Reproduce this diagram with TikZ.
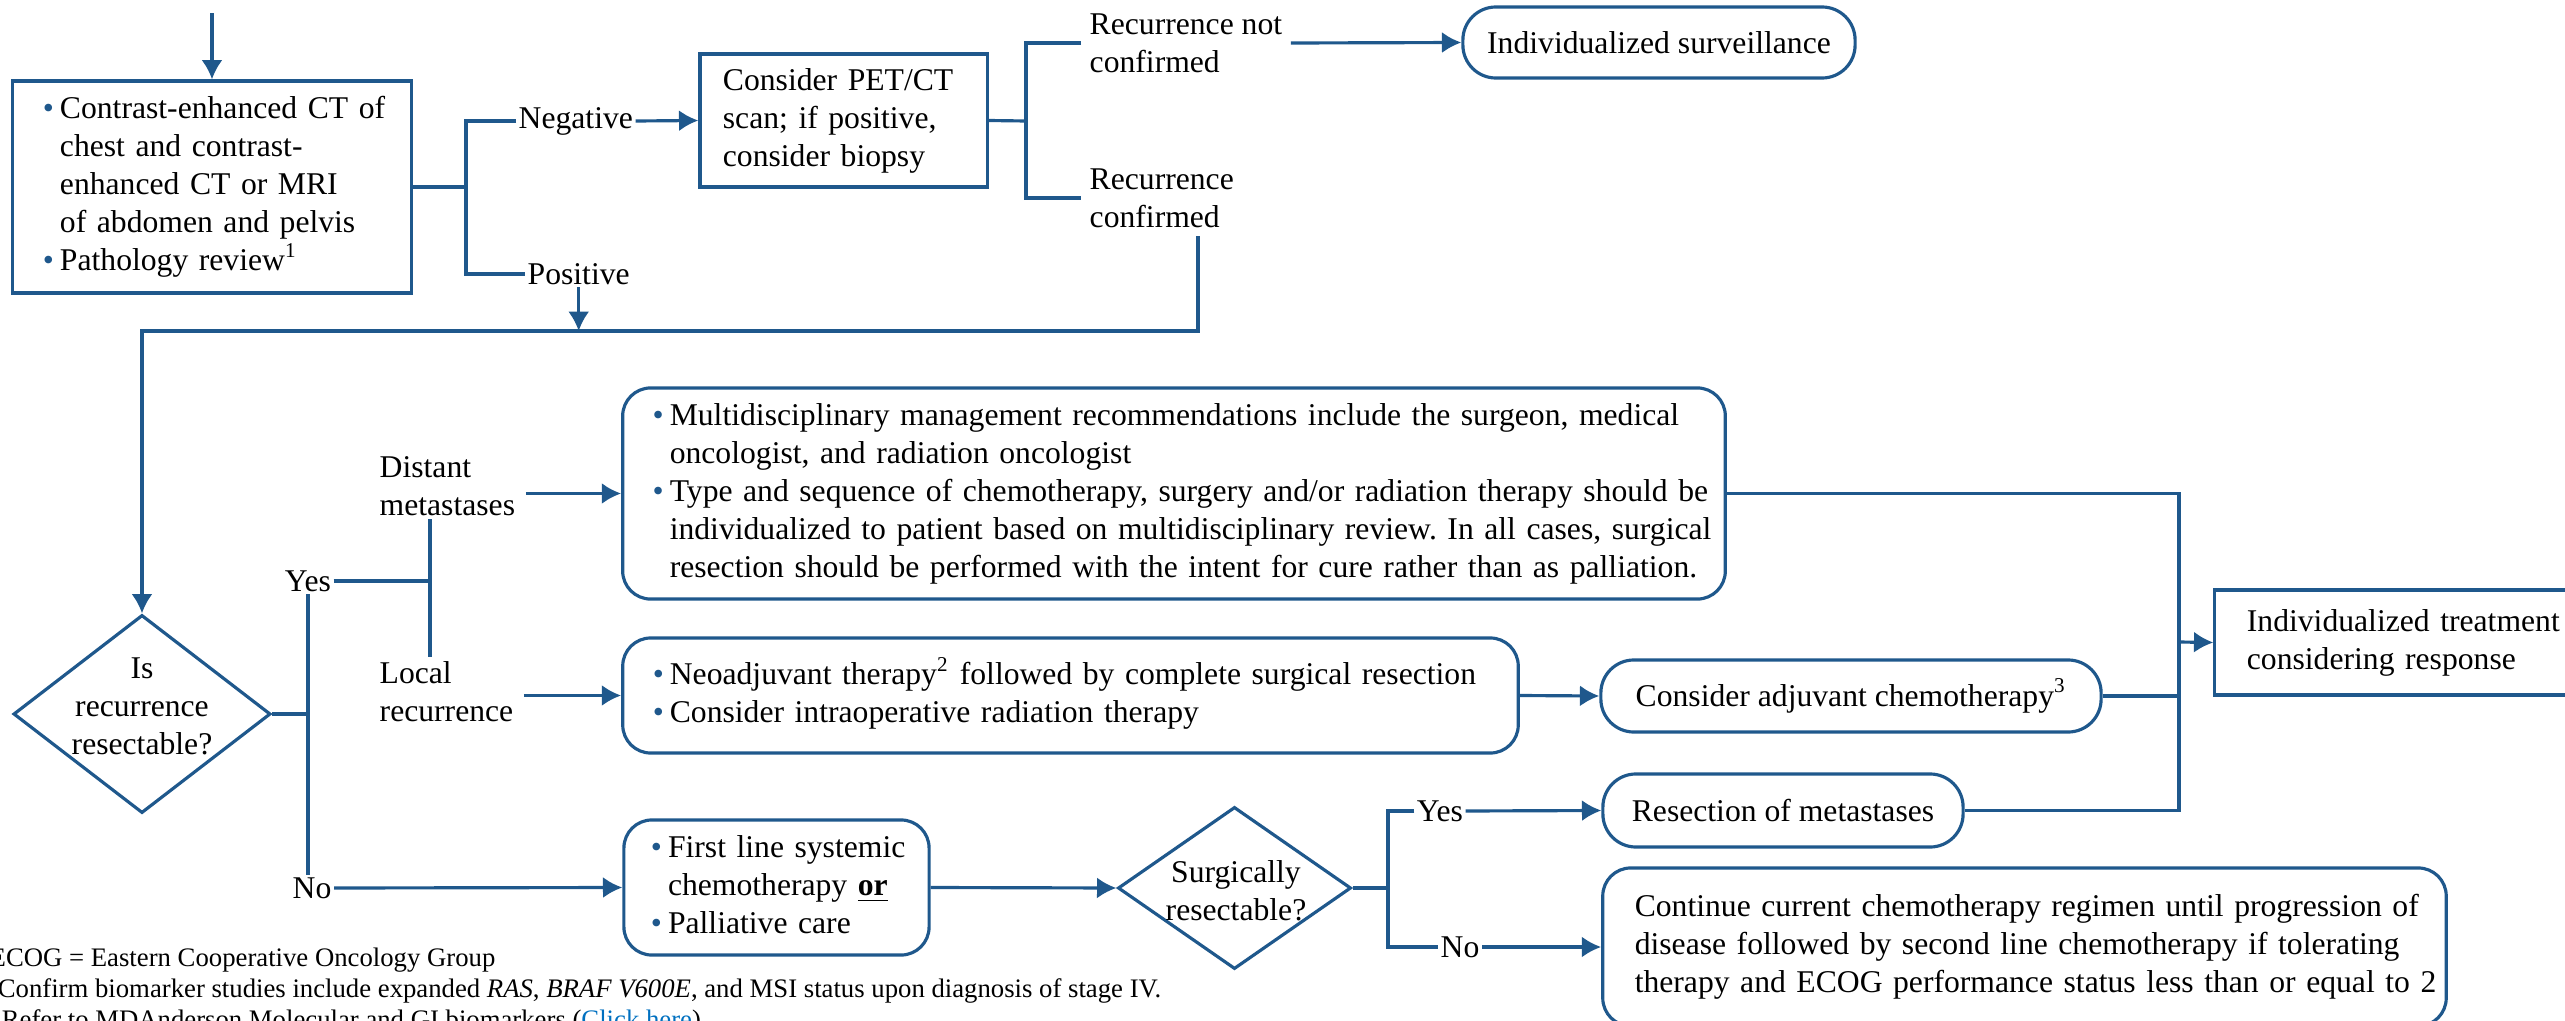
\documentclass[tikz,border=0pt]{standalone}
\usepackage{fontspec}
\setmainfont{Liberation Serif}
\usepackage{tikz}
\usetikzlibrary{arrows.meta,shapes.geometric,calc}
\definecolor{nblue}{RGB}{31,88,140}
\definecolor{linkblue}{RGB}{0,112,192}
\tikzset{>={Latex[length=5.5pt,width=6pt]}}
\tikzstyle{sqbox}=[rectangle,draw=nblue,line width=0.9pt,inner ysep=0pt,align=left]
\tikzstyle{rbox}=[sqbox,rounded corners=0.28cm]
\tikzstyle{pill}=[rectangle,draw=nblue,line width=0.9pt,rounded corners=0.33cm,inner sep=0pt,align=center]
\tikzstyle{dmd}=[diamond,draw=nblue,line width=0.9pt,inner sep=0pt]
\tikzstyle{lbl}=[inner sep=0.02cm,align=left]
\tikzstyle{conn}=[draw=nblue,line width=0.9pt]
\tikzstyle{fnote}=[anchor=base west,inner sep=0pt,font=\fontsize{7.6}{8.8}\selectfont]
\newcommand{\bul}{{\color{nblue}\textbullet}}
\frenchspacing

\begin{document}
\begin{tikzpicture}[x=0.01cm,y=-0.01cm,font=\fontsize{9}{10.8}\selectfont]
	\useasboundingbox (0,0) rectangle (2565,1021);

	% work-up
	\node[sqbox,inner xsep=0.30cm,text width=3.38cm,minimum height=2.12cm] (scan) at (212,187) {\begin{tabular}{@{}l@{\hspace{0.06cm}}l@{}}
		\bul & Contrast-enhanced CT of\\
		 & chest and contrast-\\
		 & enhanced CT or MRI\\
		 & of abdomen and pelvis\\
		\bul & Pathology review\textsuperscript{1}
	\end{tabular}};
	\node[sqbox,inner xsep=0.23cm,text width=2.41cm,minimum height=1.33cm] (pet) at (843.5,120.5) {Consider PET/CT\\scan; if positive,\\consider biopsy};
	\node[pill,minimum width=3.92cm,minimum height=0.71cm] (surv) at (1659,42.5) {Individualized surveillance};

	\node[lbl,anchor=west] (neg) at (516,121) {Negative};
	\node[lbl,anchor=west] (pos) at (525,274) {Positive};
	\node[lbl,anchor=west,inner sep=0.08cm] (rnc) at (1081,43) {Recurrence not\\confirmed};
	\node[lbl,anchor=west,inner sep=0.08cm] (rc) at (1081,198) {Recurrence\\confirmed};

	% resectable?
	\node[dmd,minimum width=2.57cm,minimum height=1.98cm] (isres) at (142,714) {};
	\node[align=center,inner sep=0pt] (isrestxt) at (142,706) {Is\\recurrence\\resectable?};

	\coordinate (entry) at (212,13);
	\coordinate (j1) at (466,187);
	\coordinate (j2) at (1026,121);
	\coordinate (back) at (1198,331);

	\draw[conn,->] (entry) -- (scan.north);
	\draw[conn] (scan.east) -- (j1);
	\draw[conn] (neg.west) -| (j1) |- (pos.west);
	\draw[conn,->] (neg.east) -- (pet.west);
	\draw[conn] (pet.east) -- (j2);
	\draw[conn] (rnc.west) -| (j2) |- (rc.west);
	\draw[conn,->] (rnc.east) -- (surv.west);
	\draw[conn,->] (rc.south -| back) -- (back) -| (isres.north);
	\draw[conn,->] (pos.south) -- (pos.south |- back);

	\node[lbl] (yes) at (308,581) {Yes};
	\node[lbl] (no) at (312,888) {No};
	\node[lbl,anchor=west,inner sep=0.1cm] (dist) at (369,486) {Distant\\metastases};
	\node[lbl,anchor=west,inner sep=0.1cm] (loc) at (369,692) {Local\\recurrence};
	\coordinate (ybt) at (430,519);
	\coordinate (ybb) at (430,657);

	\node[rbox,inner xsep=0.30cm,text width=10.42cm,minimum height=2.11cm] (mdt) at (1174,493.5) {\begin{tabular}{@{}l@{\hspace{0.06cm}}l@{}}
		\bul & Multidisciplinary management recommendations include the surgeon, medical\\
		 & oncologist, and radiation oncologist\\
		\bul & Type and sequence of chemotherapy, surgery and/or radiation therapy should be\\
		 & individualized to patient based on multidisciplinary review. In all cases, surgical\\
		 & resection should be performed with the intent for cure rather than as palliation.
	\end{tabular}};
	\node[rbox,inner xsep=0.30cm,text width=8.35cm,minimum height=1.15cm] (neo) at (1070.5,695.5) {\begin{tabular}{@{}l@{\hspace{0.06cm}}l@{}}
		\bul & Neoadjuvant therapy\textsuperscript{2} followed by complete surgical resection\\
		\bul & Consider intraoperative radiation therapy
	\end{tabular}};
	\node[pill,minimum width=5.00cm,minimum height=0.72cm] (adj) at (1851,696) {Consider adjuvant chemotherapy\textsuperscript{3}};
	\node[sqbox,inner xsep=0.32cm,text width=3.21cm,minimum height=1.05cm] (tr) at (2407.5,642.5) {Individualized treatment\\considering response};
	\node[pill,minimum width=3.60cm,minimum height=0.73cm] (res) at (1783,810.5) {Resection of metastases};
	\coordinate (jx) at (2179,642);

	\draw[conn] (isres.east) -- (isres.east -| yes.south);
	\draw[conn] (yes.south) -- (yes.south |- no.north);
	\draw[conn] (yes.east) -- (yes.east -| ybt);
	\draw[conn] (ybt) -- (ybb);
	\draw[conn,->] (dist.east |- mdt.west) -- (mdt.west);
	\draw[conn,->] (loc.east |- neo.west) -- (neo.west);
	\draw[conn,->] (neo.east) -- (adj.west);
	\draw[conn] (mdt.east) -- (mdt.east -| jx) -- (res.east -| jx) -- (res.east);
	\draw[conn] (adj.east) -- (adj.east -| jx);
	\draw[conn,->] (jx) -- (tr.west);

	% not resectable
	\node[rbox,inner xsep=0.27cm,text width=2.51cm,minimum height=1.35cm] (fl) at (776.5,887.5) {\begin{tabular}{@{}l@{\hspace{0.06cm}}l@{}}
		\bul & First line systemic\\
		 & chemotherapy \underline{\textbf{or}}\\
		\bul & Palliative care
	\end{tabular}};
	\node[dmd,minimum width=2.33cm,minimum height=1.62cm] (surg) at (1234.5,888) {};
	\node[align=center,inner sep=0pt] (surgtxt) at (1236,891) {Surgically\\resectable?};
	\node[lbl] (syes) at (1440,811) {Yes};
	\node[lbl] (sno) at (1460,947) {No};
	\coordinate (sbr) at (1388,888);
	\node[rbox,inner xsep=0.32cm,text width=7.79cm,minimum height=1.58cm] (cont) at (2024.5,947) {\begin{tabular}{@{}l@{}}
		Continue current chemotherapy regimen until progression of\\
		disease followed by second line chemotherapy if tolerating\\
		therapy and ECOG performance status less than or equal to 2
	\end{tabular}};

	\draw[conn,->] (no.east) -- (fl.west);
	\draw[conn,->] (fl.east) -- (surg.west);
	\draw[conn] (surg.east) -- (sbr);
	\draw[conn] (syes.west) -| (sbr) |- (sno.west);
	\draw[conn,->] (syes.east) -- (res.west);
	\draw[conn,->] (sno.east) -- (cont.west);

	% footnotes
	\node[fnote] (fn0) at (-11,966) {ECOG = Eastern Cooperative Oncology Group};
	\node[fnote] (fn1) at (-14,997) {\textsuperscript{1}Confirm biomarker studies include expanded \textit{RAS}, \textit{BRAF V600E}, and MSI status upon diagnosis of stage IV.};
	\node[fnote] (fn2) at (-10,1028) {\textsuperscript{2}Refer to MDAnderson Molecular and GI biomarkers (\textcolor{linkblue}{Click here})};
\end{tikzpicture}
\end{document}
